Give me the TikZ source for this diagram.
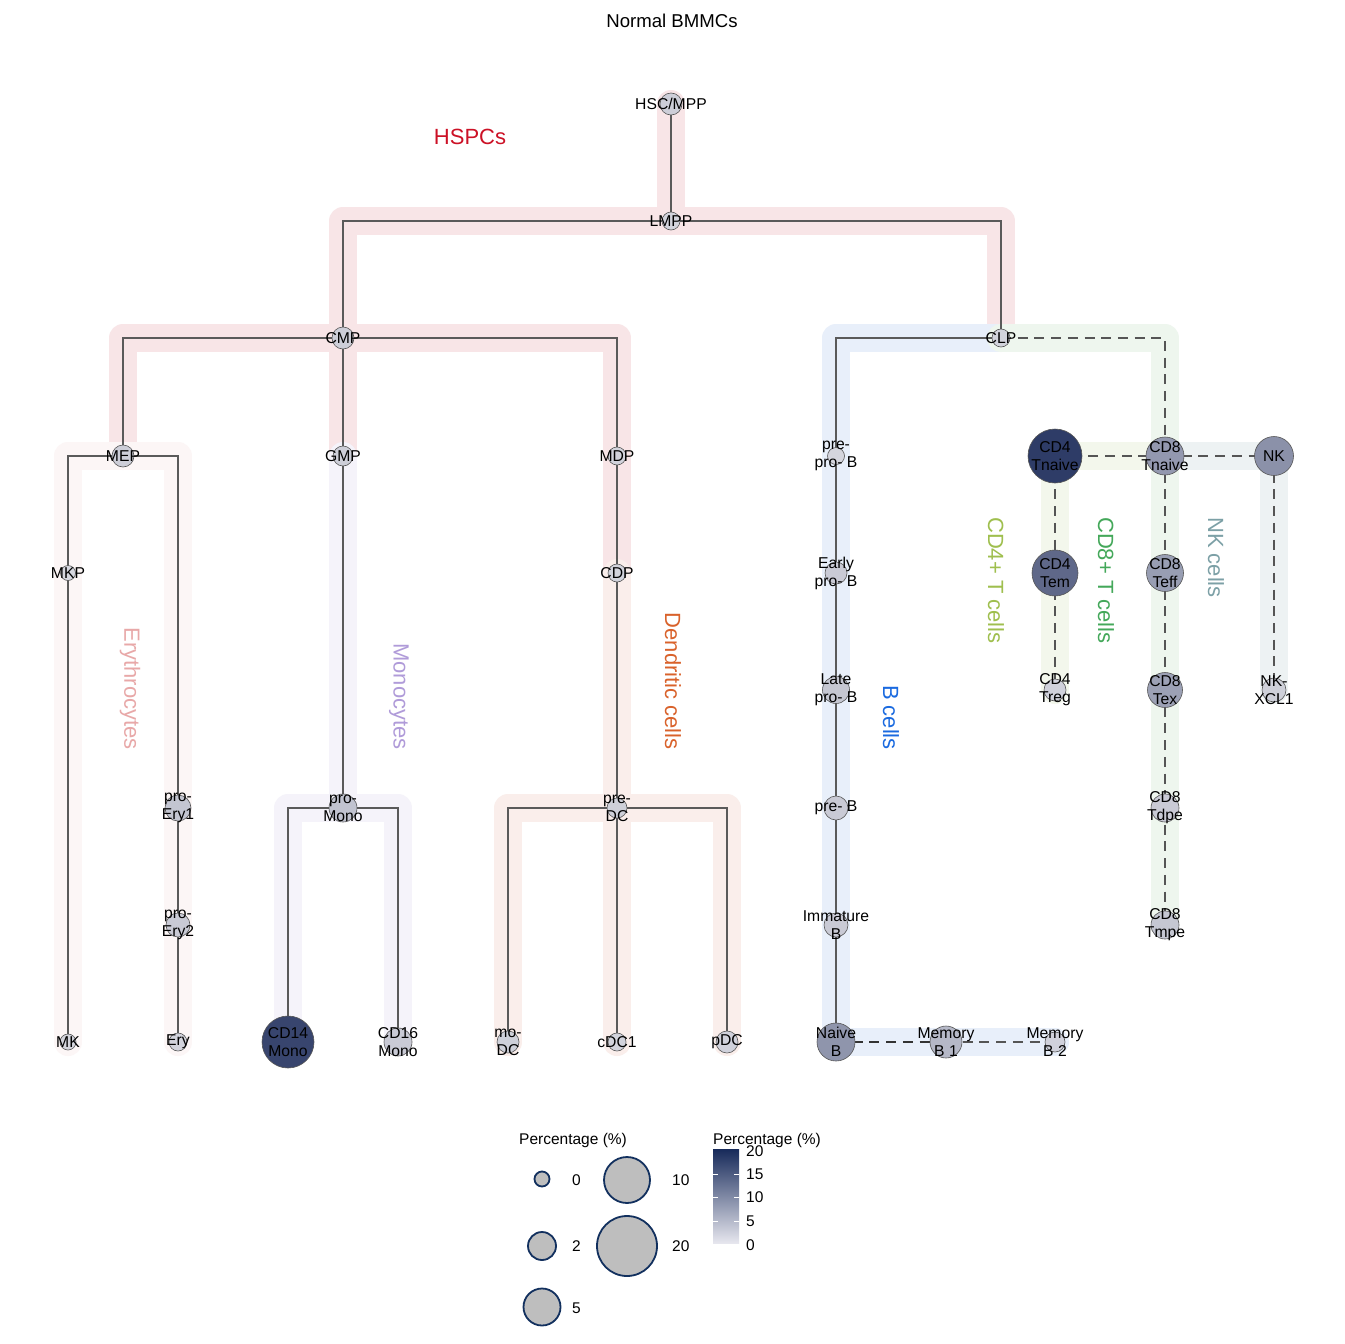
\documentclass[tikz,border=0pt]{standalone}
\usepackage{fontspec}
\setmainfont{Liberation Sans}
\definecolor{lo}{HTML}{DCDCE3}
\definecolor{hi}{HTML}{1B2A59}
\definecolor{nodeborder}{HTML}{555555}
\definecolor{edgecol}{HTML}{5A5A5A}
\definecolor{dedgecol}{HTML}{555555}
\definecolor{hspcband}{HTML}{F8E5E7}
\definecolor{dcband}{HTML}{FAEEEB}
\definecolor{eryband}{HTML}{FCF6F6}
\definecolor{monoband}{HTML}{F5F3FA}
\definecolor{bband}{HTML}{E8EFFA}
\definecolor{cdeband}{HTML}{EEF6EE}
\definecolor{cdfband}{HTML}{F3F7EC}
\definecolor{nkband}{HTML}{EDF2F3}
\definecolor{hspctxt}{HTML}{CC1126}
\definecolor{erytxt}{HTML}{E8A8A8}
\definecolor{monotxt}{HTML}{B09BD9}
\definecolor{dctxt}{HTML}{D9622B}
\definecolor{btxt}{HTML}{1A6AE0}
\definecolor{cdftxt}{HTML}{9FBF4E}
\definecolor{cdetxt}{HTML}{44A85A}
\definecolor{nktxt}{HTML}{7CA0A6}
\definecolor{legnavy}{HTML}{12305E}
\definecolor{legfill}{HTML}{BEBEBE}
\definecolor{cbtop}{HTML}{172A5A}
\definecolor{cbbot}{HTML}{E6E6EE}
\pgfdeclarelayer{bands}
\pgfdeclarelayer{edges}
\pgfsetlayers{bands,edges,main}
\newcommand\mkcell[6]{%
  \node[cell, minimum size=#4pt, fill=hi!#5!lo] (#1) at (#2,#3) {};
  \node[lbl] (#1-l) at (#1.center) {#6};}
\begin{document}
\begin{tikzpicture}[x=1pt,y=-1pt,
  cell/.style={circle, draw=nodeborder, line width=0.6pt, inner sep=0pt},
  lbl/.style={font=\fontsize{15.7}{18}\selectfont, align=center, inner sep=0pt, text=black},
  band/.style={line width=28pt, line cap=round, line join=round},
  edge/.style={draw=edgecol, line width=1.8pt},
  dedge/.style={draw=dedgecol, line width=2.7pt, dash pattern=on 10pt off 6.7pt},
  lin/.style={font=\fontsize{22}{26}\selectfont, inner sep=0pt},
  leg/.style={font=\fontsize{15.5}{18}\selectfont, inner sep=0pt},
  legc/.style={circle, draw=legnavy, fill=legfill, line width=1.8pt, inner sep=0pt},
]
\useasboundingbox (0,0) rectangle (1344,1344);
\begin{pgfonlayer}{bands}
\fill[white] (0,0) rectangle (1344,1344);
\end{pgfonlayer}

% nodes
\mkcell{HSC}{671}{104}{22}{8}{HSC/MPP}
\mkcell{LMPP}{671}{221}{18}{5}{LMPP}
\mkcell{CMP}{343}{338}{22}{8}{CMP}
\mkcell{CLP}{1001}{338}{18}{5}{CLP}
\mkcell{MEP}{123}{456}{22}{8}{MEP}
\mkcell{GMP}{343}{456}{20}{8}{GMP}
\mkcell{MDP}{617}{456}{18}{5}{MDP}
\mkcell{preproB}{836}{456}{17}{4}{pre-\\pro- B}
\mkcell{CDfN}{1055}{456}{54}{90}{CD4\\Tnaive}
\mkcell{CDeN}{1165}{456}{38}{38}{CD8\\Tnaive}
\mkcell{NK}{1274}{456}{39}{42}{NK}
\mkcell{MKP}{68}{573}{15}{3}{MKP}
\mkcell{CDP}{617}{573}{18}{5}{CDP}
\mkcell{EproB}{836}{573}{22}{10}{Early\\pro- B}
\mkcell{CDfTem}{1055}{573}{46}{65}{CD4\\Tem}
\mkcell{CDeTeff}{1165}{573}{37}{35}{CD8\\Teff}
\mkcell{LproB}{836}{690}{27}{12}{Late\\pro- B}
\mkcell{CDfTreg}{1055}{690}{22}{6}{CD4\\Treg}
\mkcell{CDeTex}{1165}{690}{35}{33}{CD8\\Tex}
\mkcell{NKX}{1274}{690}{24}{7}{NK-\\XCL1}
\mkcell{proEryA}{178}{808}{26}{13}{pro-\\Ery1}
\mkcell{proMono}{343}{808}{28}{14}{pro-\\Mono}
\mkcell{preDC}{617}{808}{20}{7}{pre-\\DC}
\mkcell{preB}{836}{808}{24}{10}{pre- B}
\mkcell{CDeTdpe}{1165}{808}{28}{10}{CD8\\Tdpe}
\mkcell{proEryB}{178}{925}{24}{10}{pro-\\Ery2}
\mkcell{ImmB}{836}{925}{24}{10}{Immature\\B}
\mkcell{CDeTmpe}{1165}{925}{28}{12}{CD8\\Tmpe}
\mkcell{MK}{68}{1042}{16}{4}{MK}
\mkcell{Ery}{178}{1042}{18}{5}{Ery}
\mkcell{CDxiv}{288}{1042}{52}{85}{CD14\\Mono}
\mkcell{CDxvi}{398}{1042}{28}{10}{CD16\\Mono}
\mkcell{moDC}{508}{1042}{22}{7}{mo-\\DC}
\mkcell{cDC}{617}{1042}{18}{5}{cDC1}
\mkcell{pDC}{727}{1042}{22}{6}{pDC}
\mkcell{NaiveB}{836}{1042}{38}{40}{Naive\\B}
\mkcell{MemBA}{946}{1042}{32}{20}{Memory\\B 1}
\mkcell{MemBB}{1055}{1042}{20}{6}{Memory\\B 2}

% bands
\begin{pgfonlayer}{bands}
\draw[band, hspcband] (HSC.center) -- (LMPP.center);
\draw[band, hspcband] (CMP.center) |- (LMPP.center) -| (CLP.center);
\draw[band, hspcband] (MEP.center) |- (CMP.center) -| (MDP.center) -- (CDP.center);
\draw[band, hspcband] (CMP.center) -- (GMP.center);
\draw[band, eryband] (MK.center) |- (MEP.center) -| (Ery.center);
\draw[band, monoband] (GMP.center) -- (proMono.center);
\draw[band, monoband] (CDxiv.center) |- (proMono.center) -| (CDxvi.center);
\draw[band, dcband] (CDP.center) -- (preDC.center) -- (cDC.center);
\draw[band, dcband] (moDC.center) |- (preDC.center) -| (pDC.center);
\draw[band, bband] (CLP.center) -| (preproB.center) -- (NaiveB.center) -- (MemBB.center);
\draw[band, cdeband] (CLP.center) -| (CDeN.center) -- (CDeTmpe.center);
\draw[band, cdfband] (CDeN.center) -- (CDfN.center) -- (CDfTreg.center);
\draw[band, nkband] (CDeN.center) -- (NK.center) -- (NKX.center);
\end{pgfonlayer}

% edges
\begin{pgfonlayer}{edges}
\draw[edge] (HSC.center) -- (LMPP.center);
\draw[edge] (LMPP.center) -| (CMP.center);
\draw[edge] (LMPP.center) -| (CLP.center);
\draw[edge] (CMP.center) -| (MEP.center);
\draw[edge] (CMP.center) -- (GMP.center);
\draw[edge] (CMP.center) -| (MDP.center);
\draw[edge] (MEP.center) -| (MKP.center);
\draw[edge] (MEP.center) -| (proEryA.center);
\draw[edge] (MKP.center) -- (MK.center);
\draw[edge] (proEryA.center) -- (proEryB.center);
\draw[edge] (proEryB.center) -- (Ery.center);
\draw[edge] (GMP.center) -- (proMono.center);
\draw[edge] (proMono.center) -| (CDxiv.center);
\draw[edge] (proMono.center) -| (CDxvi.center);
\draw[edge] (MDP.center) -- (CDP.center);
\draw[edge] (CDP.center) -- (preDC.center);
\draw[edge] (preDC.center) -| (moDC.center);
\draw[edge] (preDC.center) -- (cDC.center);
\draw[edge] (preDC.center) -| (pDC.center);
\draw[edge] (CLP.center) -| (preproB.center);
\draw[edge] (preproB.center) -- (EproB.center);
\draw[edge] (EproB.center) -- (LproB.center);
\draw[edge] (LproB.center) -- (preB.center);
\draw[edge] (preB.center) -- (ImmB.center);
\draw[edge] (ImmB.center) -- (NaiveB.center);
\draw[dedge] (CLP.center) -| (CDeN.center);
\draw[dedge] (CDeN.center) -- (CDfN.center);
\draw[dedge] (CDeN.center) -- (NK.center);
\draw[dedge] (CDfN.center) -- (CDfTem.center);
\draw[dedge] (CDfTem.center) -- (CDfTreg.center);
\draw[dedge] (CDeN.center) -- (CDeTeff.center);
\draw[dedge] (CDeTeff.center) -- (CDeTex.center);
\draw[dedge] (CDeTex.center) -- (CDeTdpe.center);
\draw[dedge] (CDeTdpe.center) -- (CDeTmpe.center);
\draw[dedge] (NK.center) -- (NKX.center);
\draw[dedge, draw=black!80] (NaiveB.center) -- (MemBA.center);
\draw[dedge] (MemBA.center) -- (MemBB.center);
\end{pgfonlayer}

% lineage labels
\node[lin, text=hspctxt] (lHSPC) at (470,137) {HSPCs};
\node[lin, text=erytxt, rotate=-90, anchor=east] (lEry) at (130,750) {Erythrocytes};
\node[lin, text=monotxt, rotate=-90, anchor=east] (lMono) at (399,750) {Monocytes};
\node[lin, text=dctxt, rotate=-90, anchor=east] (lDC) at (673,750) {Dendritic cells};
\node[lin, text=btxt, rotate=-90, anchor=east] (lB) at (891,750) {B cells};
\node[lin, text=cdftxt, rotate=-90, anchor=west] (lCDf) at (996,517) {CD4+ T cells};
\node[lin, text=cdetxt, rotate=-90, anchor=west] (lCDe) at (1106,517) {CD8+ T cells};
\node[lin, text=nktxt, rotate=-90, anchor=west] (lNK) at (1216,517) {NK cells};

% title
\node[font=\fontsize{18.6}{21}\selectfont, inner sep=0pt] (title) at (672,21) {Normal BMMCs};

% legend: sizes
\node[leg, anchor=west] (legTa) at (519,1140) {Percentage (\%)};
\node[legc, minimum size=15pt] (s0) at (542,1179) {};
\node[legc, minimum size=28pt] (s2) at (542,1246) {};
\node[legc, minimum size=37pt] (s5) at (542,1307) {};
\node[legc, minimum size=46pt] (s10) at (627,1180) {};
\node[legc, minimum size=60pt] (s20) at (627,1246) {};
\node[leg, anchor=west] (t0) at (572,1180) {0};
\node[leg, anchor=west] (t2) at (572,1246) {2};
\node[leg, anchor=west] (t5) at (572,1308) {5};
\node[leg, anchor=west] (t10) at (672,1180) {10};
\node[leg, anchor=west] (t20) at (672,1246) {20};

% legend: colour bar
\node[leg, anchor=west] (legTb) at (713,1140) {Percentage (\%)};
\shade[top color=cbtop, bottom color=cbbot] (713,1149) rectangle (739,1243);
\foreach \yy in {1174,1197,1221} {
  \draw[white, line width=1pt] (713,\yy) -- (718,\yy);
  \draw[white, line width=1pt] (734,\yy) -- (739,\yy);
}
\node[leg, anchor=west] (c20) at (746,1151) {20};
\node[leg, anchor=west] (c15) at (746,1174) {15};
\node[leg, anchor=west] (c10) at (746,1197) {10};
\node[leg, anchor=west] (c5) at (746,1221) {5};
\node[leg, anchor=west] (c0) at (746,1245) {0};
\end{tikzpicture}
\end{document}
